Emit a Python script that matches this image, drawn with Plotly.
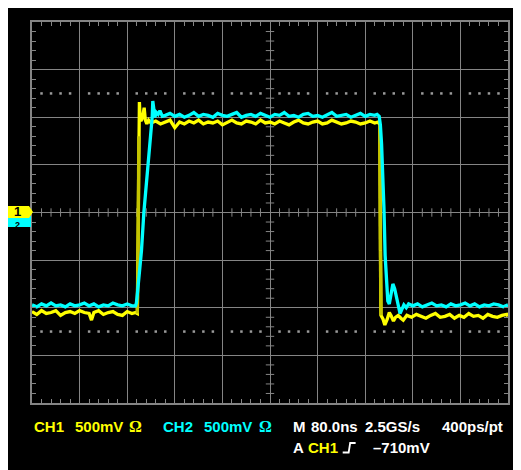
import plotly.graph_objects as go

# ---------------- data (time in ns, voltage in V) ----------------
ch1_t = [-400,-392,-384,-376,-368,-360,-352,-344,-336,-328,-320,-312,-304,-300,-296,-288,-280,-272,-264,-256,-248,-240,-232,-226,
         -223,-221.5,-220.5,-219.5,-218.5,-217,-215.5,-213.5,-211.5,-209.5,-207,-204,-200,
         -192,-184,-176,-168,-160,-152,-144,-136,-128,-120,-112,-104,-96,-88,-80,-72,-64,-56,-48,-40,-32,-24,-16,-8,
         0,8,16,24,32,40,48,56,64,72,80,88,96,104,112,120,128,136,144,152,160,168,176,
         182,184.5,185.5,186.5,190,193,197,200.5,204,207.5,211,215.5,220,224,230,
         238,246,254,262,270,278,286,294,302,310,318,326,334,342,350,358,366,374,382,390,398,400]
ch1_v = [-1.04,-1.07,-1.03,-1.06,-1.05,-1.03,-1.08,-1.05,-1.04,-1.06,-1.03,-1.05,-1.06,-1.13,-1.05,-1.03,-1.07,-1.05,-1.04,-1.07,-1.08,-1.04,-1.06,-1.05,
         -1.06,-0.30,0.80,1.16,1.02,0.96,0.98,1.02,1.10,0.97,0.93,0.97,0.94,
         0.96,0.93,0.95,0.97,0.89,0.95,0.93,0.96,0.94,0.97,0.93,0.95,0.94,0.96,0.92,0.95,0.97,0.94,0.93,0.96,0.95,0.93,0.97,0.94,
         0.95,0.93,0.96,0.94,0.92,0.95,0.97,0.94,0.93,0.95,0.96,0.93,0.94,0.97,0.95,0.93,0.94,0.96,0.95,0.93,0.94,0.96,0.94,
         0.95,0.92,-0.40,-1.08,-1.12,-1.18,-1.12,-1.05,-1.09,-1.14,-1.10,-1.08,-1.11,-1.13,-1.08,
         -1.10,-1.07,-1.09,-1.11,-1.08,-1.06,-1.10,-1.09,-1.07,-1.11,-1.08,-1.10,-1.06,-1.09,-1.08,-1.11,-1.07,-1.09,-1.10,-1.08,-1.07,-1.09]

ch2_t = [-400,-392,-384,-376,-368,-360,-352,-344,-336,-328,-320,-312,-304,-296,-288,-280,-272,-264,-256,-248,-240,-232,
         -226,-224.5,-223,-221.5,-219.5,-216,-212,-208.5,-205,-202,-199.5,-198,-197,-195.5,-193.5,-191,-188,-185,-181,
         -176,-168,-160,-152,-144,-136,-128,-120,-112,-104,-96,-88,-80,-72,-64,-56,-48,-40,-32,-24,-16,-8,
         0,8,16,24,32,40,48,56,64,72,80,88,96,104,112,120,128,136,144,152,160,168,176,
         180,183.5,185.5,187.5,189.5,191.5,193.5,195.5,198,200.5,203.5,206.5,209.5,212.5,215.5,218.5,221.5,225,229,233,
         240,248,256,264,272,280,288,296,304,312,320,328,336,344,352,360,368,376,384,392,400]
ch2_v = [-0.97,-0.99,-0.96,-0.98,-0.95,-0.98,-0.97,-0.99,-0.96,-0.98,-0.97,-0.95,-0.98,-0.96,-0.99,-0.97,-0.98,-0.95,-0.97,-0.98,-0.96,-0.98,
         -0.98,-0.95,-0.86,-0.76,-0.62,-0.40,0.00,0.23,0.48,0.68,0.86,1.00,1.17,1.08,1.00,1.05,1.03,1.07,1.01,
         1.02,1.04,1.01,1.03,1.00,1.02,1.05,1.01,1.03,1.02,1.00,1.04,1.02,1.01,1.03,1.05,1.00,1.02,1.03,1.01,1.04,1.02,
         1.00,1.03,1.02,1.05,1.01,1.02,1.00,1.03,1.04,1.01,1.02,1.00,1.03,1.05,1.01,1.02,1.03,1.00,1.02,1.04,1.01,1.03,1.02,
         1.03,1.01,0.92,0.72,0.45,0.05,-0.45,-0.75,-0.93,-0.96,-0.84,-0.75,-0.80,-0.90,-1.00,-1.06,-1.02,-0.97,-1.00,-0.96,
         -0.98,-0.96,-0.99,-0.97,-0.95,-0.98,-0.97,-0.99,-0.96,-0.98,-0.97,-0.95,-0.98,-0.96,-0.99,-0.97,-0.98,-0.96,-0.97,-0.99,-0.97]

labels_line1 = ["CH1", "500mV", "Ω", "CH2", "500mV", "Ω", "M", "80.0ns", "2.5GS/s", "400ps/pt"]
labels_line2 = ["A", "CH1", "–710mV"]

assert len(ch1_t) == len(ch1_v), (len(ch1_t), len(ch1_v))
assert len(ch2_t) == len(ch2_v), (len(ch2_t), len(ch2_v))

# ---------------- layout geometry ----------------
# the page body has an 8px margin, so figure pixel = screen pixel - 8
OFF = 8
W, H = 521 - OFF, 470 - OFF
L, R, T, B = 32 - OFF, 11, 22 - OFF, 67
PW, PH = W - L - R, H - T - B
def XP(sx): return (sx - OFF - L) / PW
def YP(sy): return (H - B - (sy - OFF)) / PH

GRID = "#858585"
YEL = "#ffff00"
CYA = "#00ffff"
OLIVE = "#c4c400"
LW = 3.3

fig = go.Figure()

# graticule decorations: center-line ticks and dotted rows
minor_x = [k * 16 for k in range(-25, 26) if k % 5 != 0]
minor_y = [k * 0.1 for k in range(-20, 21) if k % 5 != 0]
fig.add_trace(go.Scatter(x=minor_x, y=[0] * len(minor_x), mode="markers",
                         marker=dict(symbol="line-ns", size=6, line=dict(color=GRID, width=1)),
                         hoverinfo="skip", showlegend=False))
fig.add_trace(go.Scatter(x=[0] * len(minor_y), y=minor_y, mode="markers",
                         marker=dict(symbol="line-ew", size=6, line=dict(color=GRID, width=1)),
                         hoverinfo="skip", showlegend=False))
for yy in (1.25, -1.25):
    fig.add_trace(go.Scatter(x=minor_x, y=[yy] * len(minor_x), mode="markers",
                             marker=dict(symbol="square", size=2.5, color="#9a9a9a", line=dict(width=0)),
                             hoverinfo="skip", showlegend=False))

# CH1
fig.add_trace(go.Scatter(x=ch1_t, y=ch1_v, mode="lines", line=dict(color=YEL, width=LW),
                         hoverinfo="skip", showlegend=False))
# dimmer fast edges of CH1
ex, ey = [], []
for i in range(len(ch1_t) - 1):
    if abs(ch1_v[i + 1] - ch1_v[i]) > 0.5:
        ex += [ch1_t[i], ch1_t[i + 1], None]
        ey += [ch1_v[i], ch1_v[i + 1], None]
fig.add_trace(go.Scatter(x=ex, y=ey, mode="lines", line=dict(color=OLIVE, width=LW),
                         hoverinfo="skip", showlegend=False))
# CH2
fig.add_trace(go.Scatter(x=ch2_t, y=ch2_v, mode="lines", line=dict(color=CYA, width=LW),
                         hoverinfo="skip", showlegend=False))

axis_common = dict(showgrid=True, gridcolor=GRID, gridwidth=1.3, zeroline=False,
                   showline=True, linecolor=GRID, linewidth=1.5, mirror="ticks",
                   ticks="inside", ticklen=4, tickcolor=GRID, tickwidth=1,
                   showticklabels=False, fixedrange=True)
fig.update_xaxes(range=[-400, 400], tick0=0, dtick=80,
                 minor=dict(dtick=16, ticks="inside", ticklen=4, tickcolor=GRID, tickwidth=1, showgrid=False),
                 **axis_common)
fig.update_yaxes(range=[-2, 2], tick0=0, dtick=0.5,
                 minor=dict(dtick=0.1, ticks="inside", ticklen=4, tickcolor=GRID, tickwidth=1, showgrid=False),
                 **axis_common)

shapes = []
# channel markers
shapes.append(dict(type="rect", xref="paper", yref="paper", x0=XP(7), x1=XP(31), y0=YP(227), y1=YP(216),
                   fillcolor=CYA, line=dict(width=0), layer="above"))
shapes.append(dict(type="path", xref="paper", yref="paper",
                   path=f"M {XP(6)},{YP(206)} L {XP(29)},{YP(206)} L {XP(33)},{YP(212)} L {XP(29)},{YP(218)} L {XP(6)},{YP(218)} Z",
                   fillcolor=YEL, line=dict(width=0), layer="above"))
# trigger slope symbol
shapes.append(dict(type="path", xref="paper", yref="paper",
                   path=f"M {XP(344)},{YP(452.5)} L {XP(350)},{YP(452.5)} L {XP(351.5)},{YP(443)} L {XP(357)},{YP(443)}",
                   line=dict(color="white", width=1.8), layer="above"))

ann = []
def txt(px, py, s, color, family="Liberation Sans", size=15, weight="bold"):
    ann.append(dict(x=XP(px - 1), y=YP(py), xref="paper", yref="paper", text=s, showarrow=False,
                    xanchor="left", yanchor="middle",
                    font=dict(family=family, size=size, color=color, weight=weight)))

y1, y2 = 427, 447.5
pos1 = [33, 74, 128, 163, 204, 259, 293, 311, 365, 443]
col1 = [YEL, YEL, YEL, CYA, CYA, CYA, "white", "white", "white", "white"]
for p, s, c in zip(pos1, labels_line1, col1):
    if s == "Ω":
        txt(p, y1, s, c, family="Liberation Serif", size=16)
    else:
        txt(p, y1, s, c)
pos2 = [293, 308, 373]
col2 = ["white", YEL, "white"]
for p, s, c in zip(pos2, labels_line2, col2):
    txt(p, y2, s, c)

# marker digits
ann.append(dict(x=XP(17), y=YP(225), xref="paper", yref="paper", text="2", showarrow=False,
                xanchor="center", yanchor="middle", borderpad=0,
                font=dict(family="Liberation Sans", size=9, color="black", weight="bold")))
ann.append(dict(x=XP(17), y=YP(211.5), xref="paper", yref="paper", text="1", showarrow=False,
                xanchor="center", yanchor="middle", borderpad=0,
                font=dict(family="Liberation Sans", size=13, color="black", weight="bold")))

fig.update_layout(width=W, height=H, margin=dict(l=L, r=R, t=T, b=B, pad=0),
                  paper_bgcolor="black", plot_bgcolor="black",
                  shapes=shapes, annotations=ann, showlegend=False)

fig.write_html("out.html")
